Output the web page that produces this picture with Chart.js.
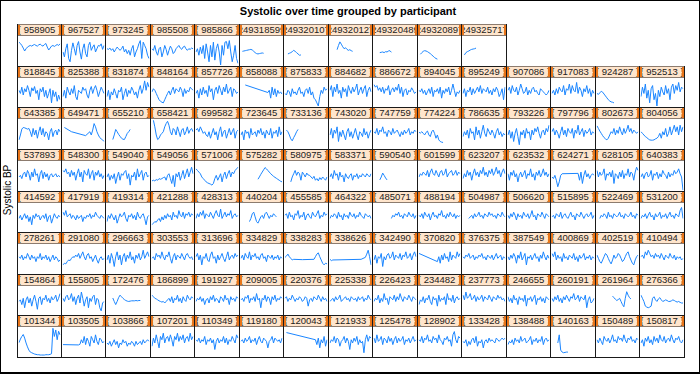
<!DOCTYPE html>
<html>
<head>
<meta charset="utf-8">
<script src="https://cdn.jsdelivr.net/npm/chart.js@4.4.1/dist/chart.umd.min.js"></script>
<style>
  html, body { margin: 0; padding: 0; background: #fff; }
  #frame { position: absolute; left: 0; top: 0; width: 700px; height: 374px; box-sizing: border-box;
           border: 1px solid #000; border-bottom-width: 2px; background: #fff; overflow: hidden; }
  #title { position: absolute; left: 0; top: 4px; width: 694px; text-align: center;
           font: bold 11px "Liberation Sans", Arial, sans-serif; color: #000; }
  #ylab { position: absolute; left: 6px; top: 189px; transform: translate(-50%, -50%) rotate(-90deg);
          font: 10px "Liberation Sans", Arial, sans-serif; color: #000; white-space: nowrap; }
  .panel { position: absolute; box-sizing: border-box; border: 1px solid #1a1a1a; background: #fff; }
  .strip { position: absolute; left: 0; top: -1px; right: 0; height: 12px; box-sizing: border-box;
           background: #ffe5cc; border-top: 1px solid #8c7b6e; border-bottom: 1px solid #8c7b6e;
           overflow: hidden; white-space: nowrap;
           font: 9.5px "Liberation Sans", Arial, sans-serif; line-height: 10px; color: #222; }
  .strip .lbar, .strip .rbar { position: absolute; top: 0; bottom: 0; width: 2px; background: #e8751a; z-index: 2; }
  .strip .lbar { left: 0; } .strip .rbar { right: 0; }
  .strip span { position: absolute; left: 50%; top: 0; transform: translateX(-50%); }
  .panel canvas { position: absolute; left: 0; }
</style>
</head>
<body>
<div id="frame">
  <div id="title"></div>
  <div id="ylab"></div>
</div>
<script>
const chartTitle = "Systolic over time grouped by participant";
const yAxisLabel = "Systolic BP";
const visit = [1,2,3,4,5,6,7,8,9,10,11,12,13,14,15,16,17,18,19,20,21,22,23,24,25,26,27,28,29,30];

// ---- bottom row ----
const bp_101344 = [141,152,160,166,155,140,128,118,112,110,108,106,105,104,104,103,103,103,103,104,104,104,105,107,185,160,180,150,176,165];
const bp_103505 = [135,null,null,null,null,null,null,null,null,null,null,134,136,150,140,160,135,155,145,130,160,150,140,165,145,135,155,150,140,145];
const bp_103866 = [140,135,145,130,140,150,135,145,125,140,135,150,140,145,130,140,135,145,140,130,145,135,140,145,135,150,140,145,150,145];
const bp_107201 = [130,155,140,165,145,125,160,150,170,140,155,160,145,165,150,130,160,150,170,145,160,150,165,140,155,160,145,170,150,160];
const bp_110349 = [150,145,155,140,150,145,160,135,150,145,155,140,150,120,145,155,140,150,145,160,140,155,135,150,145,160,150,140,165,155];
const bp_119180 = [145,150,140,155,145,150,160,140,150,145,155,135,150,160,145,140,155,150,145,125,145,150,160,140,155,150,145,150,140,155];
const bp_120043 = [null,172,null,null,null,null,null,null,null,null,null,null,null,null,null,null,null,null,null,null,null,150,135,155,125,150,140,160,130,150];
const bp_121933 = [140,150,145,160,140,155,150,130,145,150,160,140,155,145,120,150,140,155,145,160,135,150,140,145,110,150,165,145,160,155];
const bp_125478 = [155,140,165,145,150,160,135,155,150,140,160,145,155,135,150,160,140,155,145,150,160,135,150,145,155,140,150,160,145,150];
const bp_128902 = [150,145,160,140,155,150,165,145,150,140,160,150,155,140,165,150,145,135,155,150,160,145,150,130,165,175,150,140,160,155];
const bp_133428 = [145,140,150,130,145,135,150,155,140,160,130,145,140,150,125,145,150,140,155,145,150,145,140,155,150,145,150,155,150,155];
const bp_138488 = [135,145,140,150,135,155,145,150,140,160,145,150,155,140,145,150,160,135,150,145,155,140,150,145,160,135,150,155,145,150];
const bp_140163 = [null,null,null,null,140,165,118,112,110,111,112,112,null,null,null,null,null,null,null,null,null,null,null,null,null,null,null,null,null,null];
const bp_150489 = [150,140,155,145,135,160,150,145,155,140,150,165,145,150,140,160,150,155,145,165,150,140,155,150,160,145,150,140,155,150];
const bp_150817 = [140,150,130,155,145,160,140,150,135,160,145,155,140,165,150,145,160,140,150,155,145,165,150,140,155,150,160,145,140,150];
// ---- row 7 ----
const bp_154864 = [140,145,130,150,120,145,155,135,150,125,145,160,140,115,150,155,130,150,145,160,140,150,135,155,145,150,160,140,150,165];
const bp_155805 = [150,140,155,160,145,150,165,140,155,130,150,160,135,170,150,125,145,155,120,150,140,155,160,130,150,145,120,110,135,140];
const bp_172476 = [null,null,null,null,151,140,130,140,152,160,155,150,146,143,141,140,141,142,142,142,143,142,143,143,null,null,null,null,null,null];
const bp_186899 = [160,155,150,148,145,142,140,138,140,135,140,145,150,140,155,135,150,145,160,140,150,135,155,145,140,160,150,145,155,150];
const bp_191927 = [140,150,145,155,140,150,130,145,150,135,155,145,160,140,150,145,135,155,150,140,160,145,150,130,155,145,150,140,155,150];
const bp_209005 = [145,150,140,155,150,160,135,150,145,155,140,165,145,150,120,150,145,160,140,155,150,130,155,145,160,140,150,145,155,150];
const bp_220376 = [150,155,140,150,145,160,150,140,150,145,155,150,140,145,155,150,125,145,150,140,155,150,145,160,150,140,155,145,150,140];
const bp_225338 = [140,145,150,140,155,145,150,160,140,145,150,155,145,150,140,155,150,145,150,140,155,145,150,155,140,150,145,160,150,145];
const bp_226423 = [140,150,145,160,135,150,140,165,145,150,130,155,150,145,160,140,155,145,165,150,140,155,150,145,160,150,140,155,150,145];
const bp_234482 = [130,145,140,155,135,150,145,160,140,130,155,145,150,125,160,140,150,145,155,130,165,145,150,140,160,135,150,155,145,150];
const bp_237773 = [160,145,170,150,155,165,145,150,160,140,155,145,150,160,140,155,150,145,160,150,140,155,150,145,160,150,155,145,150,140];
const bp_246655 = [155,140,150,135,160,145,150,130,155,145,150,140,160,125,150,145,155,140,150,160,130,150,145,155,140,150,135,155,150,145];
const bp_260191 = [150,140,155,145,160,140,150,135,155,145,160,150,140,155,150,165,145,150,160,140,155,150,145,160,120,145,155,135,140,150];
const bp_261964 = [null,null,null,null,null,null,null,null,null,null,null,157,152,147,143,146,150,140,130,123,150,171,160,152,148,null,null,null,null,null];
const bp_276366 = [160,150,140,125,122,120,122,125,150,155,145,140,148,152,145,140,142,145,143,140,140,142,145,143,140,138,140,137,135,135];
// ---- row 6 ----
const bp_278261 = [150,145,155,140,150,145,160,150,140,155,145,150,135,150,145,160,140,150,145,155,140,150,135,145,155,140,150,145,135,140];
const bp_291080 = [125,130,128,135,140,138,145,150,148,155,150,160,145,155,165,150,140,155,160,145,150,135,145,155,140,130,145,150,140,145];
const bp_296663 = [140,155,130,160,145,120,150,165,140,155,125,150,160,135,155,145,165,140,150,130,155,145,160,140,150,170,145,155,165,150];
const bp_303553 = [145,150,140,160,150,155,145,165,150,140,155,150,165,145,130,150,160,140,155,150,145,160,150,140,155,160,150,145,150,140];
const bp_313696 = [150,160,140,155,125,150,145,160,140,135,155,165,145,150,130,155,140,150,160,145,135,150,165,140,150,155,145,160,150,155];
const bp_334829 = [145,155,140,160,150,145,165,140,155,150,160,145,150,140,155,160,145,150,135,155,150,145,155,140,150,145,155,140,150,145];
const bp_338283 = [148,152,158,150,145,140,142,null,null,null,null,null,141,null,null,null,null,null,null,null,142,150,158,162,150,140,130,125,130,128];
const bp_338626 = [142,138,140,null,null,null,null,null,null,null,null,null,null,null,null,null,null,null,null,null,null,null,142,null,null,148,158,170,150,125];
const bp_342490 = [140,155,130,150,145,160,120,150,140,155,160,145,150,165,140,155,150,145,160,140,155,150,165,145,150,160,140,155,165,150];
const bp_370820 = [160,null,null,null,null,null,null,null,null,null,null,null,null,135,150,130,155,140,160,145,150,135,165,140,155,150,145,165,150,160];
const bp_376375 = [150,145,155,150,160,145,150,155,140,150,145,155,150,160,145,150,140,155,150,145,155,140,150,160,145,150,155,140,150,145];
const bp_387549 = [150,140,155,145,160,150,130,155,145,165,140,150,160,125,150,145,155,140,150,160,145,150,135,155,145,165,150,140,155,145];
const bp_400869 = [160,150,165,140,155,145,150,135,160,145,150,140,155,150,145,160,140,150,135,155,145,150,160,140,150,145,155,140,150,145];
const bp_402519 = [155,145,135,130,140,150,160,155,145,135,128,140,155,145,150,160,155,145,135,140,150,160,165,150,140,130,125,140,150,155];
const bp_410494 = [150,155,145,165,155,170,160,150,155,145,160,150,155,145,160,150,140,155,150,145,160,150,145,155,140,150,145,150,140,145];
// ---- row 5 ----
const bp_414592 = [140,150,135,145,155,140,150,130,145,120,150,140,155,145,150,135,145,150,140,155,130,145,150,125,140,155,145,140,150,145];
const bp_417919 = [160,150,165,145,150,155,140,150,145,135,150,140,145,150,130,145,140,150,145,155,140,150,145,160,150,145,140,150,145,140];
const bp_419314 = [130,150,140,155,145,135,150,125,140,155,145,150,160,140,130,150,145,155,140,150,135,160,145,140,150,155,140,120,145,150];
const bp_421288 = [120,125,130,128,135,140,130,145,135,150,140,155,145,150,135,160,145,150,140,165,150,145,160,140,155,150,160,145,155,150];
const bp_428313 = [140,155,145,160,150,165,140,155,150,145,160,150,140,155,165,150,145,170,140,150,160,145,155,150,165,140,150,155,145,150];
const bp_440204 = [null,null,null,null,null,null,130,140,155,160,145,130,125,135,145,150,140,155,160,150,140,150,145,155,150,145,null,null,null,null];
const bp_455585 = [150,155,140,160,145,150,135,155,150,165,140,150,145,160,135,150,155,145,140,160,150,145,155,165,140,150,145,160,150,155];
const bp_464322 = [140,150,145,155,150,140,160,145,150,135,155,145,150,140,160,150,145,155,140,150,145,160,150,145,140,155,150,145,150,140];
const bp_485071 = [null,null,null,null,null,null,null,null,null,null,null,null,140,150,145,155,150,160,145,150,140,155,150,145,160,150,145,155,140,150];
const bp_488194 = [150,145,155,140,160,150,145,155,135,150,160,145,150,140,155,150,165,145,150,140,155,145,160,150,145,155,140,150,145,150];
const bp_504987 = [null,null,null,null,140,145,150,140,155,145,150,160,145,150,140,155,150,145,160,150,155,145,150,140,155,150,145,160,150,145];
const bp_506620 = [150,140,155,145,160,150,135,155,145,150,140,160,150,145,155,140,150,165,145,150,135,155,150,145,160,150,140,155,150,145];
const bp_515895 = [145,150,140,155,150,145,160,140,150,155,145,140,150,160,145,150,135,155,150,145,160,150,140,150,155,145,150,160,140,150];
const bp_522469 = [null,null,140,150,145,155,150,140,160,145,150,140,155,150,145,150,160,145,150,140,155,150,145,150,160,145,150,140,155,150];
const bp_531200 = [140,150,145,155,140,150,160,145,150,135,155,145,150,160,140,150,145,155,140,150,160,145,150,140,155,150,145,165,175,140];
// ---- row 4 ----
const bp_537893 = [140,145,135,150,155,140,160,150,130,155,140,165,145,150,125,150,160,135,155,140,150,130,145,150,140,145,150,140,145,140];
const bp_548300 = [160,155,165,150,155,140,160,145,155,130,150,165,140,155,125,160,150,145,165,135,150,160,130,155,145,160,140,150,135,145];
const bp_549040 = [140,150,130,145,135,150,120,140,155,130,150,145,155,160,135,150,115,145,140,155,130,165,140,150,160,130,150,155,140,145];
const bp_549056 = [128,130,128,132,130,135,133,135,138,140,130,145,150,135,120,145,110,150,140,155,130,145,160,135,150,165,140,155,170,150];
const bp_571006 = [165,160,155,150,140,135,130,125,122,120,118,115,120,135,145,130,140,150,125,145,155,135,150,160,140,155,150,160,165,170];
const bp_575282 = [null,null,null,null,null,null,null,null,null,null,null,null,133,140,148,155,162,169,165,160,155,150,146,142,139,136,133,130,127,125];
const bp_580975 = [null,null,null,null,125,140,150,160,145,155,150,130,155,148,140,152,146,145,140,135,142,130,135,128,138,132,140,135,130,140];
const bp_583371 = [140,150,135,160,145,150,130,155,140,145,125,150,140,135,145,150,130,145,140,150,135,145,140,150,145,140,150,145,140,150];
const bp_590540 = [null,null,null,null,131,140,152,145,137,131,null,null,null,null,null,null,null,null,null,null,null,null,null,null,null,null,null,null,null,null];
const bp_601599 = [140,150,145,155,150,145,160,140,155,165,150,145,160,150,140,155,160,145,150,165,140,150,155,160,145,150,160,145,155,150];
const bp_623207 = [135,150,140,160,145,155,130,150,165,145,155,140,160,150,170,145,155,140,160,150,165,145,155,170,150,160,140,155,165,150];
const bp_623532 = [150,130,155,145,160,140,150,125,145,155,140,150,160,135,150,145,165,140,150,130,155,145,160,140,150,165,145,155,140,150];
const bp_624271 = [140,135,145,130,110,125,145,150,null,null,null,null,null,null,null,null,null,null,151,130,155,120,145,160,140,150,135,145,150,145];
const bp_628105 = [160,140,155,145,150,165,130,150,145,155,140,160,120,150,145,135,155,140,160,135,150,145,165,140,155,150,130,155,170,160];
const bp_640383 = [140,150,135,150,155,140,145,160,130,150,145,155,135,150,140,160,150,145,135,155,140,150,145,160,150,155,165,150,140,100];
// ---- row 3 ----
const bp_643385 = [125,140,158,163,162,160,158,160,150,135,160,140,155,130,150,165,140,160,135,150,145,125,150,160,135,150,155,140,158,150];
const bp_649471 = [null,163,null,null,null,null,150,null,null,null,null,null,null,null,null,null,138,null,null,150,140,155,175,165,150,140,132,128,125,120];
const bp_655210 = [null,null,null,null,126,140,157,150,142,136,130,127,126,135,145,150,157,null,null,null,null,null,null,null,null,null,null,null,null,null];
const bp_658421 = [null,185,165,140,126,130,140,145,150,165,175,182,170,150,140,160,155,140,165,150,135,155,160,140,150,165,145,155,160,150];
const bp_699582 = [155,160,150,165,155,145,150,140,135,150,130,145,160,140,150,125,150,165,135,150,155,130,145,160,140,150,160,130,150,155];
const bp_723645 = [140,150,125,155,145,150,130,160,140,145,150,135,155,145,160,140,150,130,155,145,140,160,130,150,145,155,135,165,140,150];
const bp_733136 = [null,155,150,140,128,122,132,140,150,157,null,null,null,null,null,null,null,null,null,null,null,null,null,null,null,null,null,null,null,null];
const bp_743020 = [140,160,130,155,145,165,120,150,135,155,140,125,150,160,135,150,130,145,160,140,125,150,145,135,160,140,150,130,145,155];
const bp_747759 = [150,145,160,140,155,150,165,145,150,135,155,150,140,160,145,150,155,145,135,150,140,155,145,150,160,140,150,145,155,150];
const bp_774224 = [148,146,150,145,140,148,152,140,135,150,155,145,130,140,125,120,118,117,null,null,null,null,null,null,null,null,null,null,null,null];
const bp_786635 = [135,150,140,155,130,160,145,150,125,165,140,155,130,150,170,145,135,160,150,140,155,145,130,150,160,140,150,135,145,140];
const bp_793226 = [140,155,130,150,120,145,160,135,110,150,140,155,130,160,145,150,125,155,140,160,150,165,145,130,150,155,140,160,150,170];
const bp_797796 = [150,160,140,155,145,130,150,165,140,155,135,160,150,145,160,130,155,145,170,140,150,160,135,155,145,150,160,140,150,145];
const bp_802673 = [168,160,152,145,138,132,128,125,130,140,150,145,160,140,155,145,165,150,140,160,145,155,170,150,160,145,155,150,145,150];
const bp_804056 = [150,145,140,135,132,128,125,124,124,125,128,130,135,145,130,150,140,160,135,145,165,140,155,170,150,165,140,170,150,165];
// ---- row 2 ----
const bp_818845 = [150,140,160,135,155,145,165,150,130,158,148,162,140,150,120,155,145,160,130,150,125,140,155,110,150,130,145,115,135,120];
const bp_825388 = [130,150,125,160,145,135,155,140,165,130,120,150,145,140,160,150,155,135,125,150,162,140,155,165,150,130,145,160,150,140];
const bp_831874 = [130,150,120,145,135,155,140,125,150,145,160,120,140,155,130,150,140,160,150,135,145,125,150,165,140,155,180,150,175,160];
const bp_848164 = [145,155,150,140,130,120,115,112,110,120,130,140,148,135,150,160,140,155,150,145,160,150,130,155,140,150,145,160,155,150];
const bp_857726 = [140,150,125,155,135,160,140,150,130,165,145,155,120,150,160,140,165,150,135,160,145,170,140,150,160,130,155,150,140,145];
const bp_858088 = [null,null,null,167,null,null,null,null,null,null,null,null,null,null,null,null,null,null,null,143,150,125,160,135,155,130,150,140,145,138];
const bp_875833 = [140,135,150,145,130,155,140,145,135,150,160,140,145,130,150,155,140,160,135,145,125,120,110,100,130,150,140,160,150,155];
const bp_884682 = [150,165,130,160,145,170,140,150,125,160,145,155,130,165,150,140,160,145,155,170,135,150,160,140,155,165,130,150,160,145];
const bp_886672 = [168,160,165,150,158,145,160,140,155,150,165,135,150,158,145,160,150,170,140,160,130,150,155,135,150,145,158,150,140,145];
const bp_894045 = [150,145,155,140,150,135,145,155,140,160,130,150,145,155,140,160,125,150,140,155,145,160,135,150,170,150,130,145,140,150];
const bp_895249 = [140,155,130,150,145,160,135,155,140,150,160,145,165,140,155,150,145,160,140,150,135,155,145,160,150,130,140,155,120,160];
const bp_907086 = [150,160,140,165,150,145,160,135,150,170,155,140,145,160,135,150,140,155,160,145,150,140,135,155,150,145,140,135,140,150];
const bp_917083 = [140,150,135,155,140,160,150,145,165,135,155,150,170,140,165,150,145,175,140,160,150,130,155,145,165,140,155,130,150,140];
const bp_924287 = [140,137,142,147,144,138,132,126,120,116,113,112,110,null,null,null,null,null,null,null,null,null,null,null,null,null,null,null,null,null];
const bp_952513 = [130,160,140,170,125,150,110,155,165,120,140,100,150,130,160,145,135,165,140,155,120,160,170,140,165,150,175,145,160,155];
// ---- top row ----
const bp_958905 = [170,166,160,152,143,150,155,158,160,158,161,163,160,158,162,164,160,158,163,166,155,146,152,158,160,157,160,163,160,165];
const bp_967527 = [140,125,150,165,120,110,145,168,150,130,160,172,140,118,150,165,135,125,160,170,145,155,162,140,150,160,158,165,148,160];
const bp_973245 = [150,148,152,145,150,140,148,155,150,145,150,158,140,148,135,145,130,150,160,125,140,150,165,175,120,170,160,150,130,120];
const bp_985508 = [150,145,160,140,130,150,155,125,140,160,148,130,145,158,150,135,140,150,155,160,152,148,155,158,150,145,150,148,152,150];
const bp_985866 = [140,150,130,155,135,160,120,165,140,110,160,125,170,115,150,165,140,100,160,130,170,172,150,175,140,110,130,160,120,105];
const bp_249318599 = [null,142,143,144,145,146,147,148,146,142,138,135,134,135,136,137,136,null,null,null,null,null,null,null,null,null,null,null,null,null];
const bp_249320107 = [null,null,134,136,138,141,145,142,138,134,130,131,null,null,null,null,null,null,null,null,null,null,null,null,null,null,null,null,null,null];
const bp_249320127 = [null,null,null,null,null,147,160,171,164,156,150,153,148,145,147,144,142,null,null,null,null,null,null,null,null,null,null,null,null,null];
const bp_249320489 = [null,null,null,null,138,139,140,138,141,140,143,144,139,null,null,null,null,null,null,null,null,null,null,null,null,null,null,null,null,null];
const bp_249320897 = [null,133,138,142,144,143,141,138,135,131,127,123,120,118,null,null,null,null,null,null,null,null,null,null,null,null,null,null,null,null];
const bp_249325717 = [null,131,138,141,143,146,148,149,150,152,null,null,null,null,null,null,null,null,null,null,null,null,null,null,null,null,null,null,null,null];

// participants in ascending order (panels fill from bottom-left, left to right, upwards)
const participants = [
  "101344","103505","103866","107201","110349","119180","120043","121933","125478","128902","133428","138488","140163","150489","150817",
  "154864","155805","172476","186899","191927","209005","220376","225338","226423","234482","237773","246655","260191","261964","276366",
  "278261","291080","296663","303553","313696","334829","338283","338626","342490","370820","376375","387549","400869","402519","410494",
  "414592","417919","419314","421288","428313","440204","455585","464322","485071","488194","504987","506620","515895","522469","531200",
  "537893","548300","549040","549056","571006","575282","580975","583371","590540","601599","623207","623532","624271","628105","640383",
  "643385","649471","655210","658421","699582","723645","733136","743020","747759","774224","786635","793226","797796","802673","804056",
  "818845","825388","831874","848164","857726","858088","875833","884682","886672","894045","895249","907086","917083","924287","952513",
  "958905","967527","973245","985508","985866","249318599","249320107","249320127","249320489","249320897","249325717"
];
const series = [
  bp_101344,bp_103505,bp_103866,bp_107201,bp_110349,bp_119180,bp_120043,bp_121933,bp_125478,bp_128902,bp_133428,bp_138488,bp_140163,bp_150489,bp_150817,
  bp_154864,bp_155805,bp_172476,bp_186899,bp_191927,bp_209005,bp_220376,bp_225338,bp_226423,bp_234482,bp_237773,bp_246655,bp_260191,bp_261964,bp_276366,
  bp_278261,bp_291080,bp_296663,bp_303553,bp_313696,bp_334829,bp_338283,bp_338626,bp_342490,bp_370820,bp_376375,bp_387549,bp_400869,bp_402519,bp_410494,
  bp_414592,bp_417919,bp_419314,bp_421288,bp_428313,bp_440204,bp_455585,bp_464322,bp_485071,bp_488194,bp_504987,bp_506620,bp_515895,bp_522469,bp_531200,
  bp_537893,bp_548300,bp_549040,bp_549056,bp_571006,bp_575282,bp_580975,bp_583371,bp_590540,bp_601599,bp_623207,bp_623532,bp_624271,bp_628105,bp_640383,
  bp_643385,bp_649471,bp_655210,bp_658421,bp_699582,bp_723645,bp_733136,bp_743020,bp_747759,bp_774224,bp_786635,bp_793226,bp_797796,bp_802673,bp_804056,
  bp_818845,bp_825388,bp_831874,bp_848164,bp_857726,bp_858088,bp_875833,bp_884682,bp_886672,bp_894045,bp_895249,bp_907086,bp_917083,bp_924287,bp_952513,
  bp_958905,bp_967527,bp_973245,bp_985508,bp_985866,bp_249318599,bp_249320107,bp_249320127,bp_249320489,bp_249320897,bp_249325717
];

document.getElementById('title').textContent = chartTitle;
document.getElementById('ylab').textContent = yAxisLabel;

const frame = document.getElementById('frame');
const NCOL = 15, NROW = 8;
const GX0 = 16.5, GX1 = 683.5, GY0 = 23, GY1 = 356;
const STRIP = 12;
const colX = c => Math.round(GX0 + c * (GX1 - GX0) / NCOL);
const rowY = r => Math.round(GY0 + r * (GY1 - GY0) / NROW);

participants.forEach((id, i) => {
  const col = i % NCOL;
  const rowFromBottom = Math.floor(i / NCOL);
  const row = NROW - 1 - rowFromBottom;
  const x0 = colX(col), x1 = colX(col + 1);
  const y0 = rowY(row), y1 = rowY(row + 1);
  const w = x1 - x0 + 1, h = y1 - y0 + 1;

  const panel = document.createElement('div');
  panel.className = 'panel';
  panel.style.left = (x0 - 1) + 'px';
  panel.style.top = y0 + 'px';
  panel.style.width = w + 'px';
  panel.style.height = h + 'px';

  const strip = document.createElement('div');
  strip.className = 'strip';
  strip.innerHTML = '<div class="lbar"></div><div class="rbar"></div>';
  const span = document.createElement('span');
  span.textContent = '{ ' + id + ' }';
  strip.appendChild(span);
  panel.appendChild(strip);

  const cw = w - 2, ch = h - 2 - (STRIP - 1);
  const canvas = document.createElement('canvas');
  canvas.width = cw; canvas.height = ch;
  canvas.style.width = cw + 'px'; canvas.style.height = ch + 'px';
  canvas.style.top = (STRIP - 1) + 'px';
  panel.appendChild(canvas);
  frame.appendChild(panel);

  new Chart(canvas, {
    type: 'line',
    data: {
      labels: visit,
      datasets: [{
        data: series[i],
        borderColor: '#1a85ff',
        borderWidth: 1,
        pointRadius: 0,
        spanGaps: true,
        tension: 0,
        fill: false
      }]
    },
    options: {
      responsive: false,
      animation: false,
      devicePixelRatio: 1,
      events: [],
      layout: { padding: { left: 1, right: 1, top: 1, bottom: 1 } },
      plugins: { legend: { display: false }, tooltip: { enabled: false }, title: { display: false } },
      scales: {
        x: { type: 'category', display: false, offset: false },
        y: { display: false, min: 100, max: 186 }
      }
    }
  });
});
</script>
</body>
</html>
